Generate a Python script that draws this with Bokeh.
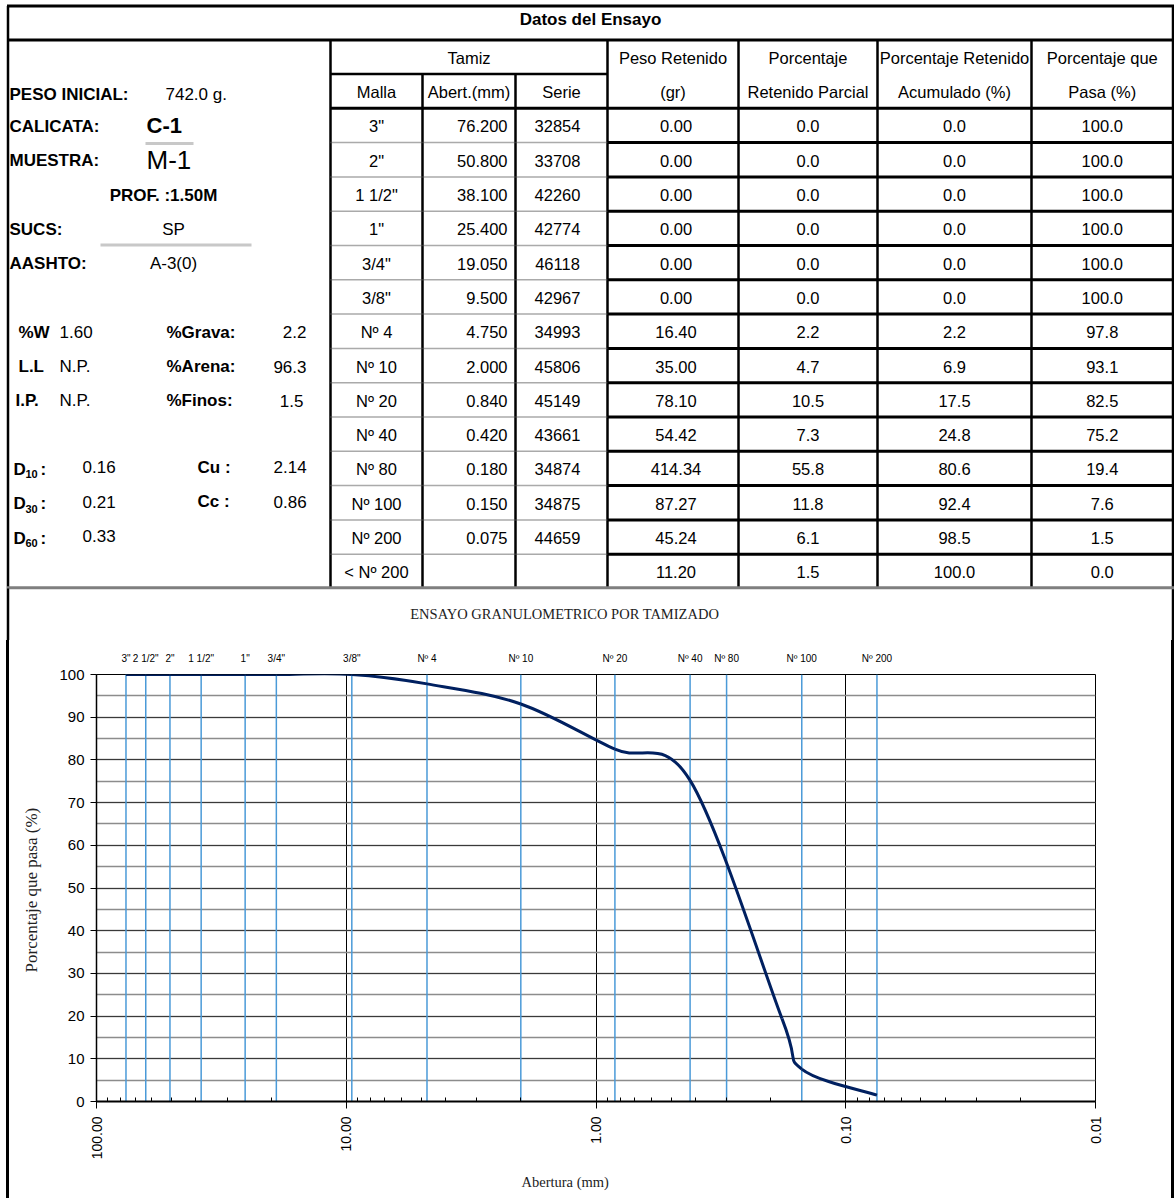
import math
import numpy as np
from bokeh.plotting import figure
from bokeh.layouts import column
from bokeh.models import (Range1d, FixedTicker, NumeralTickFormatter, LogAxis, Title,
                          SingleIntervalTicker)
from bokeh.core.properties import value
from bokeh.embed import file_html
from bokeh.resources import INLINE

# ---------------- data ----------------
malla = ['3"', '2"', '1 1/2"', '1"', '3/4"', '3/8"', 'Nº 4', 'Nº 10', 'Nº 20', 'Nº 40',
         'Nº 80', 'Nº 100', 'Nº 200', '< Nº 200']
abertura = [76.2, 50.8, 38.1, 25.4, 19.05, 9.5, 4.75, 2.0, 0.84, 0.42, 0.18, 0.15, 0.075, None]
serie = ['32854', '33708', '42260', '42774', '46118', '42967', '34993', '45806', '45149',
         '43661', '34874', '34875', '44659', '']
peso_retenido = [0.00, 0.00, 0.00, 0.00, 0.00, 0.00, 16.40, 35.00, 78.10, 54.42, 414.34, 87.27, 45.24, 11.20]
ret_parcial = [0.0, 0.0, 0.0, 0.0, 0.0, 0.0, 2.2, 4.7, 10.5, 7.3, 55.8, 11.8, 6.1, 1.5]
ret_acum = [0.0, 0.0, 0.0, 0.0, 0.0, 0.0, 2.2, 6.9, 17.5, 24.8, 80.6, 92.4, 98.5, 100.0]
pasa = [100.0, 100.0, 100.0, 100.0, 100.0, 100.0, 97.8, 93.1, 82.5, 75.2, 19.4, 7.6, 1.5, 0.0]

sieve_lines = [76.2, 63.5, 50.8, 38.1, 25.4, 19.05, 9.5, 4.75, 2.0, 0.84, 0.42, 0.30, 0.15, 0.075]
sieve_names = ['3"', '2 1/2"', '2"', '1 1/2"', '1"', '3/4"', '3/8"', 'Nº 4', 'Nº 10', 'Nº 20',
               'Nº 40', 'Nº 80', 'Nº 100', 'Nº 200']

peso_inicial = "742.0 g."
calicata = "C-1"
muestra = "M-1"
prof = "PROF. :1.50M"
sucs = "SP"
aashto = "A-3(0)"
humedad = "1.60"
ll = "N.P."
ip = "N.P."
grava = "2.2"
arena = "96.3"
finos = "1.5"
d10, d30, d60 = "0.16", "0.21", "0.33"
cu, cc = "2.14", "0.86"

SANS = "Liberation Sans"
SERIF = "Liberation Serif"
FS = 16.5   # table text size
FL = 17     # left panel text size

# ---------------- table figure (page pixel coordinates) ----------------
W = 1174
HT = 640
t = figure(width=W, height=HT, x_range=Range1d(0, W), y_range=Range1d(HT, 0),
           output_backend="svg", toolbar_location=None, min_border=0,
           x_axis_location=None, y_axis_location=None)
t.grid.visible = False
t.outline_line_color = None
t.background_fill_color = "white"
t.border_fill_color = "white"

cols = [330, 422, 515, 607, 738, 877, 1031, 1172.5]
Y_TOP = 5.5
Y_T = 39.5
Y_H1 = 73.5
Y_H2 = 107.8
RH = 34.3
n_rows = len(malla)
Y_BOT = Y_H2 + n_rows * RH


def seg(x0, y0, x1, y1, color="black", w=2.5, dash="solid"):
    t.segment(x0=[x0], y0=[y0], x1=[x1], y1=[y1], line_color=color, line_width=w, line_dash=dash)


def txt(x, y, s, size=FS, bold=False, align="center", font=SANS, color="black"):
    t.text(x=[x], y=[y], text=[s], text_font=value(font), text_font_size=f"{size}px",
           text_font_style="bold" if bold else "normal", text_align=align,
           text_baseline="middle", text_color=color)


# borders of the table
seg(6.5, Y_TOP, 1173.5, Y_TOP, w=3)
seg(7.5, Y_TOP, 7.5, HT, w=2.5)
seg(cols[-1], Y_TOP, cols[-1], HT, w=2.5)
seg(6.5, Y_T, 1173.5, Y_T, w=3)
seg(cols[0], Y_T, cols[0], Y_BOT, w=2.5)
seg(cols[0], Y_H1, cols[3], Y_H1, w=2.5)
seg(cols[0], Y_H2, cols[-1], Y_H2, w=3)
for xc in cols[1:3]:
    seg(xc, Y_H1, xc, Y_BOT, w=2.5)
for xc in cols[3:7]:
    seg(xc, Y_T, xc, Y_BOT, w=2.5)
for k in range(1, n_rows):
    yk = Y_H2 + k * RH
    seg(cols[0], yk, cols[3], yk, color="#555555", w=1.5, dash="1 1")
    seg(cols[3], yk, cols[-1], yk, w=3)
seg(6.5, Y_BOT - 0.8, 1173.5, Y_BOT - 0.8, color="#7f7f7f", w=3)

# header
txt(590, 19, "Datos del Ensayo", size=17, bold=True)
yh1 = (Y_T + Y_H1) / 2 + 1
yh2 = (Y_H1 + Y_H2) / 2 + 1
cc_ = [(cols[i] + cols[i + 1]) / 2 for i in range(len(cols) - 1)]
txt((cols[0] + cols[3]) / 2, yh1, "Tamiz")
txt(cc_[3], yh1, "Peso Retenido")
txt(cc_[4], yh1, "Porcentaje")
txt(cc_[5], yh1, "Porcentaje Retenido")
txt(cc_[6], yh1, "Porcentaje que")
txt(cc_[0], yh2, "Malla")
txt(cc_[1], yh2, "Abert.(mm)")
txt(cc_[2], yh2, "Serie")
txt(cc_[3], yh2, "(gr)")
txt(cc_[4], yh2, "Retenido Parcial")
txt(cc_[5], yh2, "Acumulado (%)")
txt(cc_[6], yh2, "Pasa (%)")


def rowc(k):
    return Y_H2 + (k + 0.5) * RH + 1


# data rows
for k in range(n_rows):
    yc = rowc(k)
    txt(cc_[0], yc, malla[k])
    if abertura[k] is not None:
        txt(cols[2] - 8, yc, f"{abertura[k]:.3f}", align="right")
    txt(cc_[2] - 4, yc, serie[k])
    txt(cc_[3] + 3, yc, f"{peso_retenido[k]:.2f}")
    txt(cc_[4], yc, f"{ret_parcial[k]:.1f}")
    txt(cc_[5], yc, f"{ret_acum[k]:.1f}")
    txt(cc_[6], yc, f"{pasa[k]:.1f}")

# left panel
txt(9, yh2 + 2, "PESO INICIAL:", size=FL, bold=True, align="left")
txt(165, yh2 + 2, peso_inicial, size=FL, align="left")
txt(9, rowc(0), "CALICATA:", size=FL, bold=True, align="left")
txt(146, rowc(0) - 1, calicata, size=22, bold=True, align="left")
seg(145, 143, 193, 143, color="#c8c8c8", w=3)
txt(9, rowc(1), "MUESTRA:", size=FL, bold=True, align="left")
txt(146, rowc(1) - 1, muestra, size=26, align="left")
txt(163, rowc(2), prof, size=FL, bold=True)
txt(9, rowc(3), "SUCS:", size=FL, bold=True, align="left")
txt(173, rowc(3), sucs, size=FL)
seg(100, 244.5, 251, 244.5, color="#c8c8c8", w=3)
txt(9, rowc(4), "AASHTO:", size=FL, bold=True, align="left")
txt(173, rowc(4), aashto, size=FL)

txt(18, rowc(6), "%W", size=FL, bold=True, align="left")
txt(59, rowc(6), humedad, size=FL, align="left")
txt(166, rowc(6), "%Grava:", size=FL, bold=True, align="left")
txt(306, rowc(6), grava, size=FL, align="right")
txt(18, rowc(7), "L.L", size=FL, bold=True, align="left")
txt(59, rowc(7), ll, size=FL, align="left")
txt(166, rowc(7), "%Arena:", size=FL, bold=True, align="left")
txt(306, rowc(7), arena, size=FL, align="right")
txt(15, rowc(8), "I.P.", size=FL, bold=True, align="left")
txt(59, rowc(8), ip, size=FL, align="left")
txt(166, rowc(8), "%Finos:", size=FL, bold=True, align="left")
txt(303, rowc(8), finos, size=FL, align="right")

for k, sub, val in [(10, "10", d10), (11, "30", d30), (12, "60", d60)]:
    yc = rowc(k)
    txt(13, yc, "D", size=FL, bold=True, align="left")
    txt(25, yc + 5, sub, size=11, bold=True, align="left")
    txt(40, yc, ":", size=FL, bold=True, align="left")
    txt(82, yc - 2, val, size=FL, align="left")
txt(197, rowc(10) - 2, "Cu :", size=FL, bold=True, align="left")
txt(273, rowc(10) - 2, cu, size=FL, align="left")
txt(197, rowc(11) - 2, "Cc :", size=FL, bold=True, align="left")
txt(273, rowc(11) - 2, cc, size=FL, align="left")

# chart section: border lines and title (upper strip)
seg(7.5, Y_BOT, 7.5, HT, w=2)
txt(566, 613, "ENSAYO  GRANULOMETRICO POR TAMIZADO", size=14.5, font=SERIF, color="#222222")

# ---------------- chart figure ----------------
WC = 1174
HC = 1198 - HT
ML, MR, MT, MB = 96, 79, 674 - HT, 96
FW = WC - ML - MR
FH = HC - MT - MB

c = figure(width=WC, height=HC, x_axis_type="log", x_range=Range1d(100, 0.01),
           y_range=Range1d(0, 100), output_backend="svg", toolbar_location=None,
           min_border_left=ML, min_border_right=MR, min_border_top=MT, min_border_bottom=MB)
for fig_ in (t, c):
    try:
        fig_.frame_align = False
    except Exception:
        pass
c.outline_line_color = "black"
c.outline_line_width = 1
c.background_fill_color = "white"
c.border_fill_color = None
c.styles = {"background": "linear-gradient(to right, transparent 6px, #000 6px, #000 8.5px, "
                          "transparent 8.5px, transparent 1171px, #000 1171px, #000 1173.5px, "
                          "transparent 1173.5px)"}

decades = [100, 10, 1, 0.1, 0.01]
minor = [m * 10.0 ** e for e in (1, 0, -1, -2) for m in range(2, 10)]
c.xaxis.ticker = FixedTicker(ticks=decades, minor_ticks=minor)
c.xaxis.formatter = NumeralTickFormatter(format="0.00")
c.xaxis.major_label_orientation = math.pi / 2
c.xaxis.major_tick_out = 7
c.xaxis.major_tick_in = 0
c.xaxis.minor_tick_in = 4
c.xaxis.minor_tick_out = 0
c.xaxis.axis_line_width = 2
c.xaxis.major_label_text_font = SANS
c.xaxis.major_label_text_font_size = "14px"
c.xaxis.major_label_text_color = "black"
c.xaxis.major_label_standoff = 8
c.xgrid.grid_line_color = "black"
c.xgrid.grid_line_width = 1

c.yaxis.ticker = SingleIntervalTicker(interval=10, num_minor_ticks=2)
c.yaxis.minor_tick_line_color = None
c.yaxis.major_tick_out = 6
c.yaxis.major_tick_in = 0
c.yaxis.axis_line_width = 1.5
c.yaxis.major_label_standoff = 6
c.yaxis.major_label_text_font = SANS
c.yaxis.major_label_text_font_size = "15px"
c.yaxis.major_label_text_color = "black"
c.yaxis.axis_label = "Porcentaje  que pasa (%)"
c.yaxis.axis_label_text_font = SERIF
c.yaxis.axis_label_text_font_size = "17px"
c.yaxis.axis_label_text_font_style = "normal"
c.yaxis.axis_label_text_color = "#222222"
c.yaxis.axis_label_standoff = 15
c.ygrid.grid_line_color = "#3a3a3a"
c.ygrid.grid_line_width = 1
c.ygrid.minor_grid_line_color = "#8c8c8c"
c.ygrid.minor_grid_line_width = 1.5

# sieve names along the top
top_axis = LogAxis(ticker=FixedTicker(ticks=sieve_lines),
                   major_label_overrides=dict(zip(sieve_lines, sieve_names)),
                   axis_line_color=None, major_tick_line_color=None, minor_tick_line_color=None,
                   major_label_standoff=5, major_label_text_font=SANS,
                   major_label_text_font_size="10px", major_label_text_color="black")
c.add_layout(top_axis, "above")

# x-axis title below
c.add_layout(Title(text="Abertura (mm)", align="left", offset=425, standoff=18,
                   text_font=SERIF, text_font_size="14.5px", text_font_style="normal",
                   text_color="#222222"), "below")

# sieve reference lines
c.segment(x0=sieve_lines, y0=0, x1=sieve_lines, y1=100, line_color="#4a9ad8", line_width=1.5)

# smoothed grading curve (Bezier segments through the measured points)
pts_x = [a for a in abertura if a is not None]
pts_y = [p for a, p in zip(abertura, pasa) if a is not None]
lx = np.log10(pts_x)
ly = np.array(pts_y)
n = len(lx)


def P(i):
    i = max(0, min(n - 1, i))
    return lx[i], ly[i]


bx0, by0, bx1, by1, cx0, cy0, cx1, cy1 = [], [], [], [], [], [], [], []
for i in range(n - 1):
    p0, p1, p2, p3 = P(i - 1), P(i), P(i + 1), P(i + 2)
    bx0.append(10 ** p1[0]); by0.append(p1[1])
    bx1.append(10 ** p2[0]); by1.append(p2[1])
    cx0.append(10 ** (p1[0] + (p2[0] - p0[0]) / 6)); cy0.append(p1[1] + (p2[1] - p0[1]) / 6)
    cx1.append(10 ** (p2[0] - (p3[0] - p1[0]) / 6)); cy1.append(p2[1] - (p3[1] - p1[1]) / 6)
c.bezier(x0=bx0, y0=by0, x1=bx1, y1=by1, cx0=cx0, cy0=cy0, cx1=cx1, cy1=cy1,
         line_color="#002060", line_width=3)

layout = column(t, c)
open("out.html", "w").write(file_html(layout, INLINE))
